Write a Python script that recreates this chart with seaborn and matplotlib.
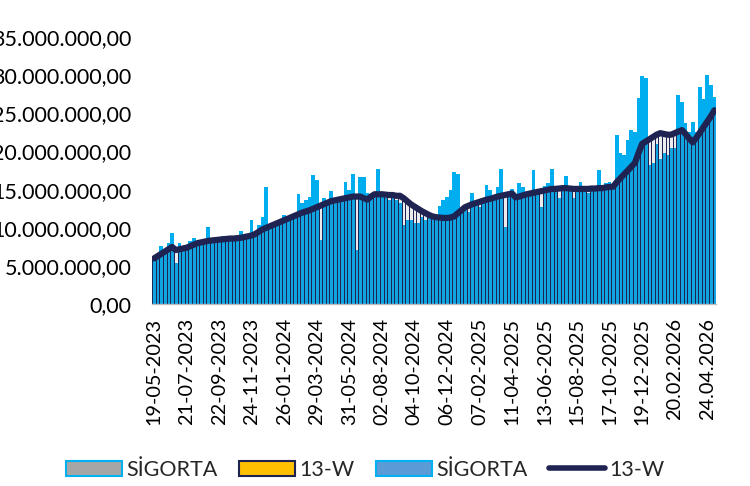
import matplotlib
matplotlib.use("Agg")
import matplotlib.pyplot as plt
from matplotlib.patches import Patch
from matplotlib.lines import Line2D
from matplotlib.ticker import FuncFormatter
import seaborn as sns
import numpy as np
import pandas as pd

# Weekly values (millions)
sigorta = [
    5.8, 6.3, 7.6, 6.9, 8.0, 9.3, 5.4, 8.0, 7.5, 7.6,
    8.3, 8.7, 7.9, 8.1, 8.2, 10.1, 8.2, 8.3, 8.4, 9.0,
    8.5, 8.6, 8.5, 8.6, 9.6, 8.7, 8.8, 11.0, 9.1, 10.4,
    11.4, 15.3, 10.0, 10.2, 10.4, 10.6, 11.7, 10.9, 11.2, 11.4,
    14.4, 13.2, 13.6, 14.0, 16.9, 16.3, 8.4, 13.9, 13.4, 14.8,
    13.6, 13.5, 13.6, 16.0, 14.9, 17.0, 7.1, 16.7, 16.7, 14.5,
    14.0, 14.2, 17.7, 14.0, 13.9, 13.6, 14.0, 13.6, 13.3, 10.4,
    11.0, 11.0, 10.7, 10.7, 11.4, 11.0, 11.4, 11.2, 11.3, 12.8,
    13.6, 14.0, 14.9, 17.3, 17.0, 12.2, 12.5, 12.1, 14.5, 13.2,
    12.7, 13.4, 15.6, 14.9, 14.0, 15.3, 17.7, 10.1, 14.3, 15.1,
    14.0, 15.9, 15.3, 14.6, 14.5, 17.6, 14.6, 12.7, 15.5, 15.9,
    17.7, 15.0, 13.9, 15.1, 16.8, 15.0, 13.9, 15.0, 16.0, 15.0,
    14.5, 15.0, 15.0, 17.6, 15.0, 15.9, 16.0, 15.3, 22.2, 19.8,
    19.5, 21.5, 22.8, 22.5, 27.0, 29.9, 29.6, 18.2, 18.5, 21.0,
    19.0, 19.8, 19.5, 20.4, 20.4, 27.4, 26.5, 23.7, 22.5, 23.8,
    22.5, 28.5, 26.9, 30.0, 28.7, 27.1,
]
w13 = [
    6.0, 6.3, 6.6, 6.9, 7.2, 7.5, 7.1, 7.2, 7.3, 7.4,
    7.6, 7.8, 8.0, 8.1, 8.2, 8.3, 8.35, 8.4, 8.45, 8.5,
    8.55, 8.6, 8.6, 8.65, 8.7, 8.8, 8.9, 9.0, 9.2, 9.5,
    9.8, 10.0, 10.2, 10.4, 10.6, 10.8, 11.0, 11.2, 11.4, 11.6,
    11.8, 12.0, 12.15, 12.3, 12.5, 12.7, 12.9, 13.1, 13.3, 13.5,
    13.6, 13.7, 13.8, 13.9, 14.0, 14.1, 14.1, 14.1, 13.9, 13.7,
    14.1, 14.4, 14.4, 14.4, 14.35, 14.3, 14.3, 14.2, 14.2, 13.9,
    13.5, 13.1, 12.8, 12.5, 12.2, 11.95, 11.7, 11.5, 11.4, 11.35,
    11.3, 11.3, 11.35, 11.5, 11.9, 12.3, 12.7, 12.9, 13.1, 13.25,
    13.4, 13.55, 13.7, 13.8, 13.95, 14.1, 14.2, 14.3, 14.4, 14.5,
    14.0, 14.1, 14.25, 14.4, 14.5, 14.6, 14.7, 14.8, 14.9, 15.0,
    15.1, 15.1, 15.15, 15.2, 15.2, 15.15, 15.1, 15.1, 15.1, 15.1,
    15.1, 15.15, 15.15, 15.2, 15.2, 15.3, 15.35, 15.4, 16.0, 16.5,
    17.0, 17.5, 18.0, 18.5, 19.8, 21.0, 21.3, 21.6, 21.9, 22.2,
    22.4, 22.3, 22.2, 22.2, 22.4, 22.6, 22.8, 22.3, 21.7, 21.2,
    21.8, 22.5, 23.2, 23.9, 24.6, 25.4,
]
tick_labels = [
    "19-05-2023", "21-07-2023", "22-09-2023", "24-11-2023", "26-01-2024",
    "29-03-2024", "31-05-2024", "02-08-2024", "04-10-2024", "06-12-2024",
    "07-02-2025", "11-04-2025", "13-06-2025", "15-08-2025", "17-10-2025",
    "19-12-2025", "20.02.2026", "24.04.2026",
]
tick_step = 9
y_ticks = [0, 5, 10, 15, 20, 25, 30, 35]

n = len(sigorta)
df = pd.DataFrame({
    "week": np.arange(n),
    "sigorta": np.array(sigorta) * 1e6,
    "w13": np.array(w13) * 1e6,
})

FONT = "Lato"
sns.set_theme(style="white")
plt.rcParams["font.family"] = [FONT, "DejaVu Sans"]

fig = plt.figure(figsize=(7.5, 4.86), dpi=100)
ax = fig.add_axes([0.203, 0.374, 0.752, 0.550])

BLUE = "#00AEEF"
NAVY = "#1F2352"

sns.barplot(data=df, x="week", y="sigorta", color=BLUE, width=1.0,
            saturation=1, edgecolor="none", linewidth=0, ax=ax, zorder=2)
ax.bar(df["week"], df["w13"], width=1.0, facecolor=(0.45, 0.45, 0.55, 0.14),
       edgecolor=NAVY, linewidth=0.7, zorder=3)
sns.lineplot(data=df, x="week", y="w13", color=NAVY, linewidth=4.5,
             ax=ax, zorder=4, solid_capstyle="round")

ax.set_xlim(-0.5, n - 0.5)
ax.set_ylim(0, 35e6)
ax.set_yticks([v * 1e6 for v in y_ticks])
ax.yaxis.set_major_formatter(FuncFormatter(
    lambda v, p: f"{v:,.2f}".replace(",", "X").replace(".", ",").replace("X", ".")))
ax.set_xticks(np.arange(len(tick_labels)) * tick_step)
ax.set_xticklabels(tick_labels, rotation=90)
ax.tick_params(axis="y", length=0, pad=15, labelsize=15.5, colors="black")
ax.tick_params(axis="x", length=0, pad=10, labelsize=14.3, colors="black")
ax.set_xlabel("")
ax.set_ylabel("")
for s in ["top", "right", "left"]:
    ax.spines[s].set_visible(False)
ax.spines["bottom"].set_color("#BFBFBF")
ax.spines["bottom"].set_linestyle((0, (2, 1)))
ax.spines["bottom"].set_linewidth(1.0)
ax.spines["bottom"].set_zorder(5)
ax.grid(False)

handles = [
    Patch(facecolor="#A6A6A6", edgecolor="#00B0F0", linewidth=1.5),
    Patch(facecolor="#FFC000", edgecolor=NAVY, linewidth=1.5),
    Patch(facecolor="#5B9BD5", edgecolor="#00B0F0", linewidth=1.5),
    Line2D([0], [0], color=NAVY, linewidth=4, solid_capstyle="round"),
]
labels = ["SİGORTA", "13-W", "SİGORTA", "13-W"]
fig.legend(handles, labels, loc="center", bbox_to_anchor=(0.487, 0.033),
           ncol=4, frameon=False, fontsize=15.5, handlelength=2.6,
           handleheight=0.7, handletextpad=0.2, columnspacing=1.0)

fig.savefig("out.png", dpi=100)
